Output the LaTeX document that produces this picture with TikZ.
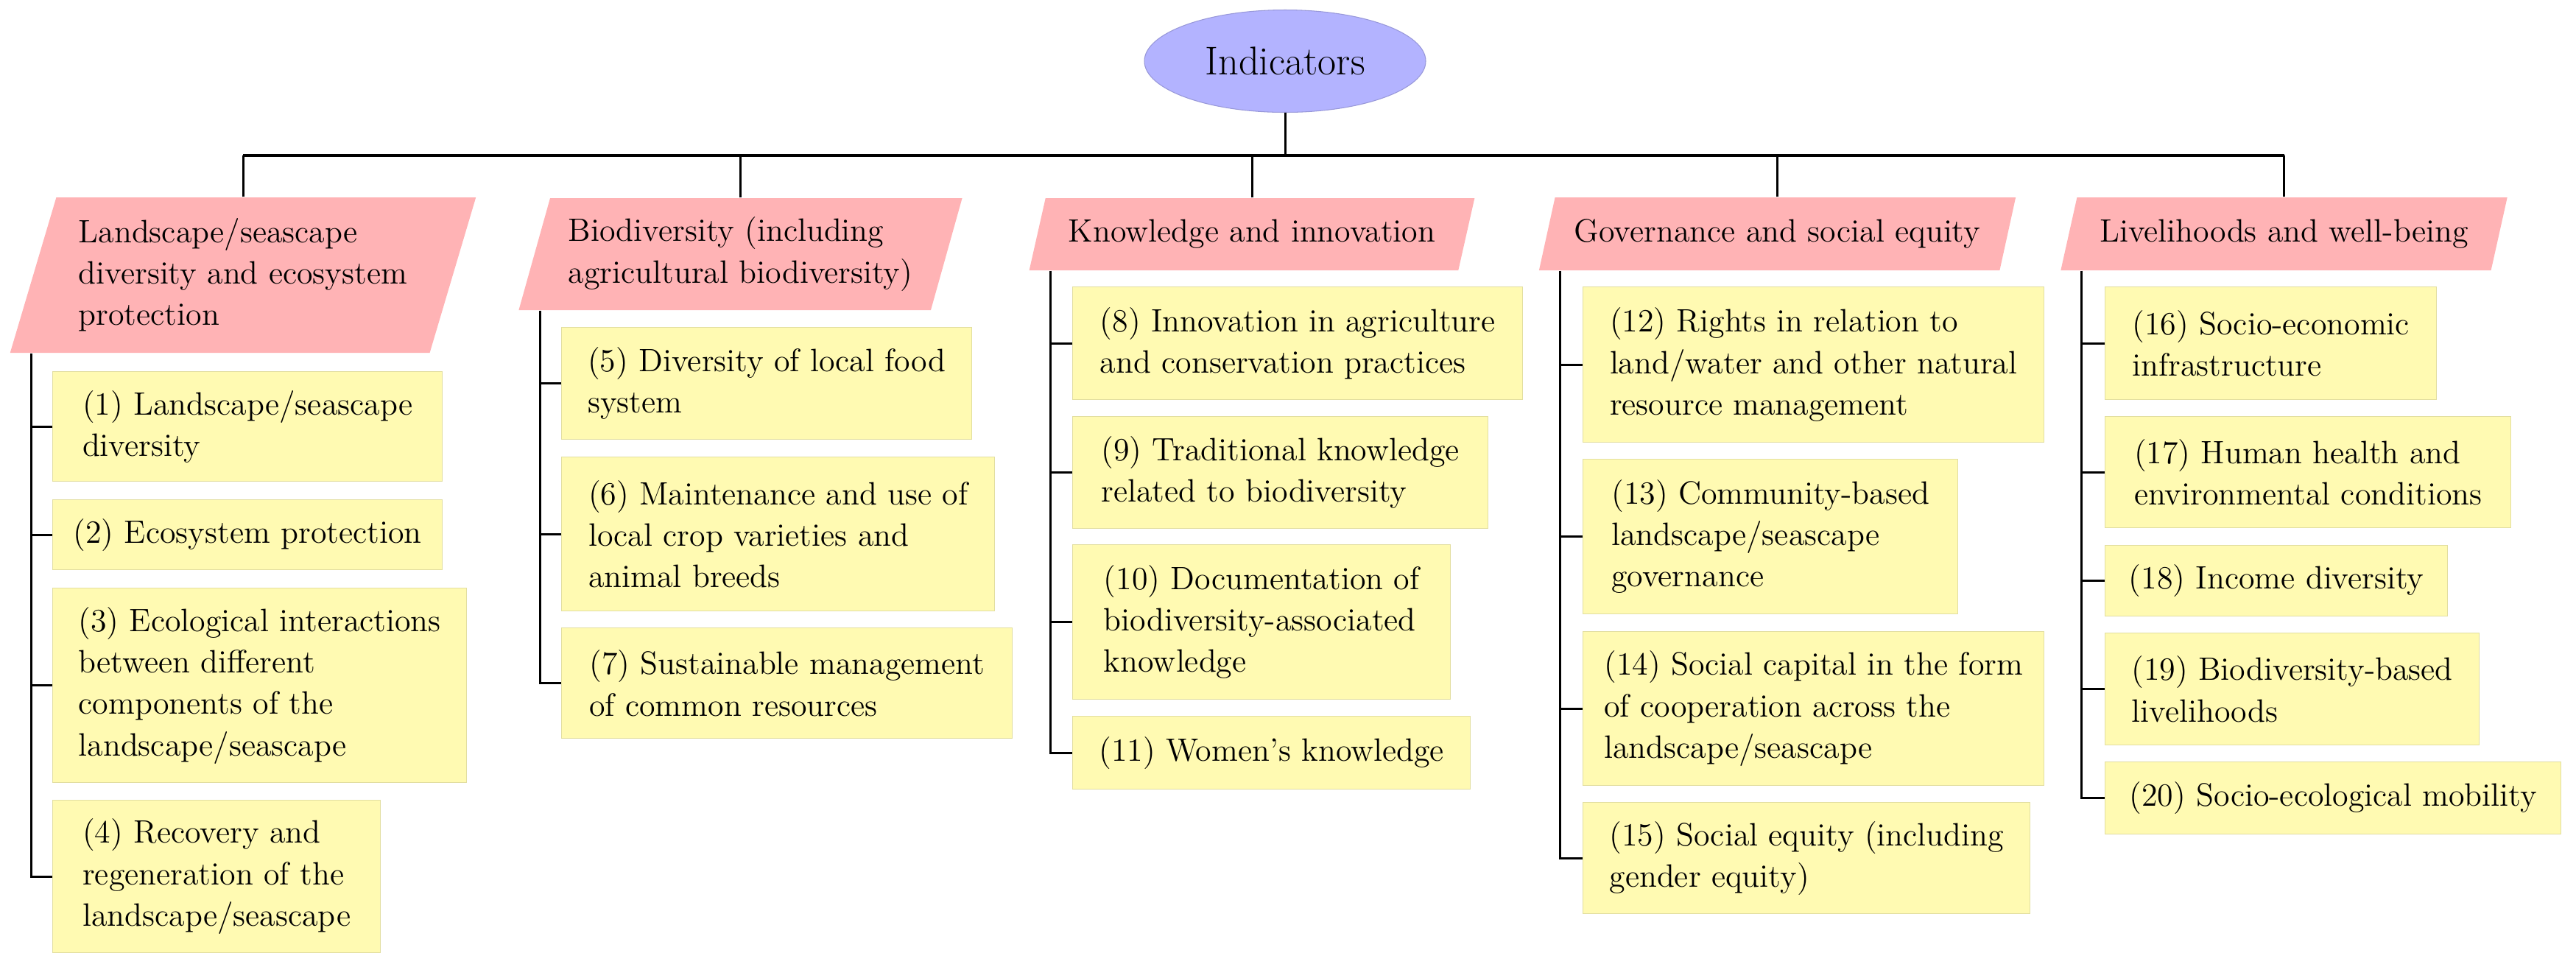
\documentclass[tikz,border=0pt]{standalone}
\usepackage{tikz}
\usetikzlibrary{shapes.geometric}

\definecolor{toplilac}{RGB}{179,179,255}
\definecolor{catpink}{RGB}{255,179,181}
\definecolor{itemyellow}{RGB}{255,250,178}
\definecolor{itemedge}{RGB}{226,222,160}

\tikzset{
	topnode/.style={ellipse,fill=toplilac,draw=toplilac!85!black,line width=0.3pt,minimum width=3.82cm,minimum height=1.39cm,font=\fontsize{15.5}{18}\selectfont},
	catnode/.style={trapezium,trapezium left angle=72,trapezium right angle=108,trapezium stretches=true,fill=catpink,align=left,inner xsep=1mm,font=\fontsize{12.5}{16}\selectfont},
	itemnode/.style={rectangle,fill=itemyellow,draw=itemedge,line width=0.4pt,anchor=north west,align=left,inner xsep=2.6mm,font=\fontsize{12.5}{16}\selectfont},
	link/.style={line width=0.85pt}
}

\begin{document}
\begin{tikzpicture}
			\useasboundingbox (0,0) rectangle (34.98,-13.12);
			% root and the five groups
			\node [topnode] (ind) at(17.45,-0.83) {Indicators};
			\node [catnode,minimum width=6.34cm,minimum height=2.11cm] (c1) at(3.30,-3.735) {Landscape/seascape\\diversity and ecosystem\\protection};
			\node [catnode,minimum width=6.03cm,minimum height=1.52cm] (c2) at(10.055,-3.45) {Biodiversity (including\\agricultural biodiversity)};
			\node [catnode,minimum width=6.06cm,minimum height=0.98cm] (c3) at(17.00,-3.18) {Knowledge and innovation};
			\node [catnode,minimum width=6.49cm,minimum height=0.99cm] (c4) at(24.135,-3.175) {Governance and social equity};
			\node [catnode,minimum width=6.07cm,minimum height=0.99cm] (c5) at(31.015,-3.175) {Livelihoods and well-being};
			\coordinate (bus) at(17.45,-2.11);
			\draw [link] (ind.south) -- (ind.south |- bus);
			\draw [line width=1.05pt] (c1.north |- bus) -- (c5.north |- bus);
			\foreach \c in {c1,c2,c3,c4,c5}
				\draw [link] (\c.north) -- (\c.north |- bus);
			% items
			\node [itemnode,minimum width=5.29cm,minimum height=1.49cm] (i1) at(0.71,-5.04) {(1) Landscape/seascape\\diversity};
			\node [itemnode,minimum width=5.29cm,minimum height=0.95cm] (i2) at(0.71,-6.78) {(2) Ecosystem protection};
			\node [itemnode,minimum width=5.62cm,minimum height=2.64cm] (i3) at(0.71,-7.98) {(3) Ecological interactions\\between different\\components of the\\landscape/seascape};
			\node [itemnode,minimum width=4.45cm,minimum height=2.07cm] (i4) at(0.71,-10.86) {(4) Recovery and\\regeneration of the\\landscape/seascape};
			\node [itemnode,minimum width=5.57cm,minimum height=1.52cm] (i5) at(7.62,-4.44) {(5) Diversity of local food\\system};
			\node [itemnode,minimum width=5.88cm,minimum height=2.09cm] (i6) at(7.62,-6.20) {(6) Maintenance and use of\\local crop varieties and\\animal breeds};
			\node [itemnode,minimum width=6.12cm,minimum height=1.50cm] (i7) at(7.62,-8.52) {(7) Sustainable management\\of common resources};
			\node [itemnode,minimum width=6.11cm,minimum height=1.53cm] (i8) at(14.56,-3.89) {(8) Innovation in agriculture\\and conservation practices};
			\node [itemnode,minimum width=5.64cm,minimum height=1.52cm] (i9) at(14.56,-5.65) {(9) Traditional knowledge\\related to biodiversity};
			\node [itemnode,minimum width=5.13cm,minimum height=2.10cm] (i10) at(14.56,-7.39) {(10) Documentation of\\biodiversity-associated\\knowledge};
			\node [itemnode,minimum width=5.40cm,minimum height=0.99cm] (i11) at(14.56,-9.72) {(11) Women's knowledge};
			\node [itemnode,minimum width=6.26cm,minimum height=2.11cm] (i12) at(21.49,-3.89) {(12) Rights in relation to\\land/water and other natural\\resource management};
			\node [itemnode,minimum width=5.09cm,minimum height=2.10cm] (i13) at(21.49,-6.23) {(13) Community-based\\landscape/seascape\\governance};
			\node [itemnode,minimum width=6.26cm,minimum height=2.09cm] (i14) at(21.49,-8.57) {(14) Social capital in the form\\of cooperation across the\\landscape/seascape};
			\node [itemnode,minimum width=6.07cm,minimum height=1.51cm] (i15) at(21.49,-10.89) {(15) Social equity (including\\gender equity)};
			\node [itemnode,minimum width=4.50cm,minimum height=1.53cm] (i16) at(28.58,-3.89) {(16) Socio-economic\\infrastructure};
			\node [itemnode,minimum width=5.51cm,minimum height=1.51cm] (i17) at(28.58,-5.65) {(17) Human health and\\environmental conditions};
			\node [itemnode,minimum width=4.65cm,minimum height=0.96cm] (i18) at(28.58,-7.40) {(18) Income diversity};
			\node [itemnode,minimum width=5.08cm,minimum height=1.52cm] (i19) at(28.58,-8.59) {(19) Biodiversity-based\\livelihoods};
			\node [itemnode,minimum width=6.19cm,minimum height=0.98cm] (i20) at(28.58,-10.34) {(20) Socio-ecological mobility};
			% tree lines down each group
			\coordinate (v1) at([xshift=2.95mm]c1.bottom left corner);
			\coordinate (v2) at([xshift=2.95mm]c2.bottom left corner);
			\coordinate (v3) at([xshift=2.95mm]c3.bottom left corner);
			\coordinate (v4) at([xshift=2.95mm]c4.bottom left corner);
			\coordinate (v5) at([xshift=2.95mm]c5.bottom left corner);
			\draw [link] (v1) |- (i4.west);
			\draw [link] (v2) |- (i7.west);
			\draw [link] (v3) |- (i11.west);
			\draw [link] (v4) |- (i15.west);
			\draw [link] (v5) |- (i20.west);
			\foreach \i in {i1,i2,i3}
				\draw [link] (\i.west) -- (\i.west -| v1);
			\foreach \i in {i5,i6}
				\draw [link] (\i.west) -- (\i.west -| v2);
			\foreach \i in {i8,i9,i10}
				\draw [link] (\i.west) -- (\i.west -| v3);
			\foreach \i in {i12,i13,i14}
				\draw [link] (\i.west) -- (\i.west -| v4);
			\foreach \i in {i16,i17,i18,i19}
				\draw [link] (\i.west) -- (\i.west -| v5);
		\end{tikzpicture}
\end{document}
